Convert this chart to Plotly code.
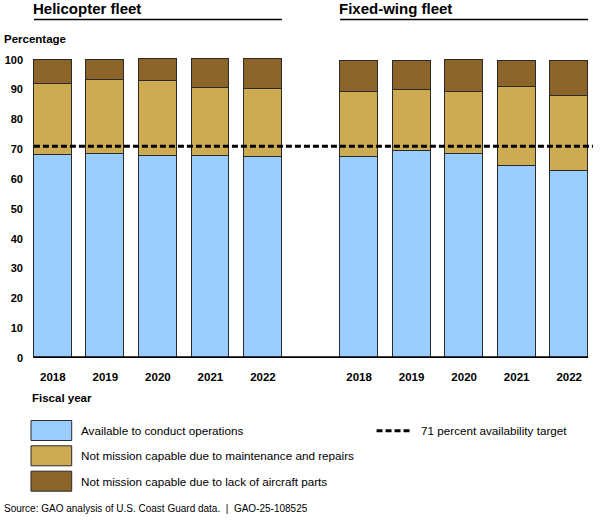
import plotly.graph_objects as go

# ---------------- data ----------------
years = ["2018", "2019", "2020", "2021", "2022"]
fleets = ["Helicopter fleet", "Fixed-wing fleet"]

heli_available = [67.9, 68.3, 67.7, 67.6, 67.3]
heli_maintenance = [24.1, 24.8, 25.0, 22.8, 22.9]
heli_parts = [8.0, 6.9, 7.4, 10.0, 10.0]

fixed_available = [67.5, 69.3, 68.4, 64.4, 62.6]
fixed_maintenance = [21.7, 20.5, 20.9, 26.5, 25.2]
fixed_parts = [10.4, 9.9, 10.7, 8.7, 11.6]

target_value = 71
y_ticks = list(range(0, 101, 10))

series_names = [
    "Available to conduct operations",
    "Not mission capable due to maintenance and repairs",
    "Not mission capable due to lack of aircraft parts",
]
target_name = "71 percent availability target"
y_title = "Percentage"
x_title = "Fiscal year"
source_text = "Source: GAO analysis of U.S. Coast Guard data.  |  GAO-25-108525"

# ---------------- styling / layout ----------------
W, H = 601, 521
ML, MR, MT, MB = 25, 5, 45, 163
PW, PH = W - ML - MR, H - MT - MB
UNIT = 52.9          # px per category slot
X0_PX = 49           # pixel of first bar centre
GROUP_OFFSET = 5.83  # slot offset of second fleet
BAR_W = 0.72
Y_MAX = PH / 2.983
ANN_PAD = 3          # plotly annotation inner padding (px)

colors = ["#99CCFF", "#CDAB52", "#8A6428"]
edge = "#2a2a2a"
FONT = "Arial, Liberation Sans, sans-serif"
NARROW = "Liberation Sans Narrow, Arial Narrow, Liberation Sans, sans-serif"


def px_x(px):
    return (px - ML) / PW


def px_y(py):
    return (H - MB - py) / PH


heli_x = [i for i in range(len(years))]
fixed_x = [i + GROUP_OFFSET for i in range(len(years))]
all_x = heli_x + fixed_x

series_values = [
    heli_available + fixed_available,
    heli_maintenance + fixed_maintenance,
    heli_parts + fixed_parts,
]

fig = go.Figure()
for name, vals, col in zip(series_names, series_values, colors):
    fig.add_trace(go.Bar(
        x=all_x, y=vals, name=name, width=BAR_W,
        marker=dict(color=col, line=dict(color=edge, width=1)),
        showlegend=False,
    ))

x_left = all_x[0] - BAR_W / 2
x_right_bars = all_x[-1] + BAR_W / 2
x_right_line = (593 - X0_PX) / UNIT

# target line
fig.add_trace(go.Scatter(
    x=[x_left, x_right_line], y=[target_value, target_value], mode="lines",
    line=dict(color="black", width=3, dash="6px,3px"),
    name=target_name, showlegend=False, hoverinfo="skip",
))

shapes = []
# baseline
shapes.append(dict(type="line", xref="x", yref="y", x0=x_left, x1=x_right_bars,
                   y0=0, y1=0, line=dict(color="black", width=3.5), layer="above"))

annotations = []
# fleet titles with underline
for title, xs in zip(fleets, [heli_x, fixed_x]):
    x0p = (xs[0] - BAR_W / 2) * UNIT + X0_PX
    x1p = (xs[-1] + BAR_W / 2) * UNIT + X0_PX
    annotations.append(dict(text=title, xref="paper", yref="paper", x=px_x(x0p - ANN_PAD),
                            y=px_y(8.5), xanchor="left", yanchor="middle", showarrow=False,
                            font=dict(family=FONT, size=15, color="black", weight="bold")))
    shapes.append(dict(type="line", xref="paper", yref="paper", x0=px_x(x0p), x1=px_x(x1p),
                       y0=px_y(19.5), y1=px_y(19.5), line=dict(color="black", width=1.5)))

# axis titles
annotations.append(dict(text=y_title, xref="paper", yref="paper", x=px_x(1 - ANN_PAD),
                        y=px_y(39.5), xanchor="left", yanchor="middle", showarrow=False,
                        font=dict(family=FONT, size=11.5, color="black", weight="bold")))
annotations.append(dict(text=x_title, xref="paper", yref="paper", x=px_x(29.5 - ANN_PAD),
                        y=px_y(397.5), xanchor="left", yanchor="middle", showarrow=False,
                        font=dict(family=FONT, size=11.5, color="black", weight="bold")))

# legend (manual)
box_rows = [(420.5, 440.5), (445.8, 465.8), (471.2, 491.2)]
for (top, bot), name, col in zip(box_rows, series_names, colors):
    shapes.append(dict(type="rect", xref="paper", yref="paper", x0=px_x(27), x1=px_x(68),
                       y0=px_y(bot), y1=px_y(top), fillcolor=col,
                       line=dict(color=edge, width=1)))
    annotations.append(dict(text=name, xref="paper", yref="paper", x=px_x(78 - ANN_PAD),
                            y=px_y((top + bot) / 2), xanchor="left", yanchor="middle",
                            showarrow=False, font=dict(family=FONT, size=11.7, color="black")))
shapes.append(dict(type="line", xref="paper", yref="paper", x0=px_x(375), x1=px_x(411),
                   y0=px_y(430.7), y1=px_y(430.7),
                   line=dict(color="black", width=3, dash="6px,3px")))
annotations.append(dict(text=target_name, xref="paper", yref="paper", x=px_x(421 - ANN_PAD),
                        y=px_y(430.7), xanchor="left", yanchor="middle", showarrow=False,
                        font=dict(family=FONT, size=11.7, color="black")))

# source
annotations.append(dict(text=source_text, xref="paper", yref="paper", x=px_x(1 - ANN_PAD),
                        y=px_y(508.5), xanchor="left", yanchor="middle", showarrow=False,
                        font=dict(family=NARROW, size=10, color="black")))

fig.update_layout(
    width=W, height=H,
    margin=dict(l=ML, r=MR, t=MT, b=MB, pad=0),
    paper_bgcolor="white", plot_bgcolor="white",
    barmode="stack", bargap=0,
    shapes=shapes, annotations=annotations,
    font=dict(family=FONT, color="black"),
)
fig.update_xaxes(
    range=[(ML - X0_PX) / UNIT, (W - MR - X0_PX) / UNIT],
    tickvals=all_x, ticktext=years + years,
    tickfont=dict(family=FONT, size=11.5, color="black", weight="bold"),
    showgrid=False, zeroline=False, showline=False, ticks="",
    ticklabelstandoff=10,
)
fig.update_yaxes(
    range=[0, Y_MAX], tickvals=y_ticks, ticktext=[str(v) for v in y_ticks],
    tickfont=dict(family=FONT, size=11, color="black", weight="bold"),
    showgrid=False, zeroline=False, showline=False, ticks="",
    ticklabelstandoff=5,
)

fig.write_html(
    "out.html",
    config={"displayModeBar": False},
    post_script="document.body.style.margin='0px';document.body.style.overflow='hidden';",
)
